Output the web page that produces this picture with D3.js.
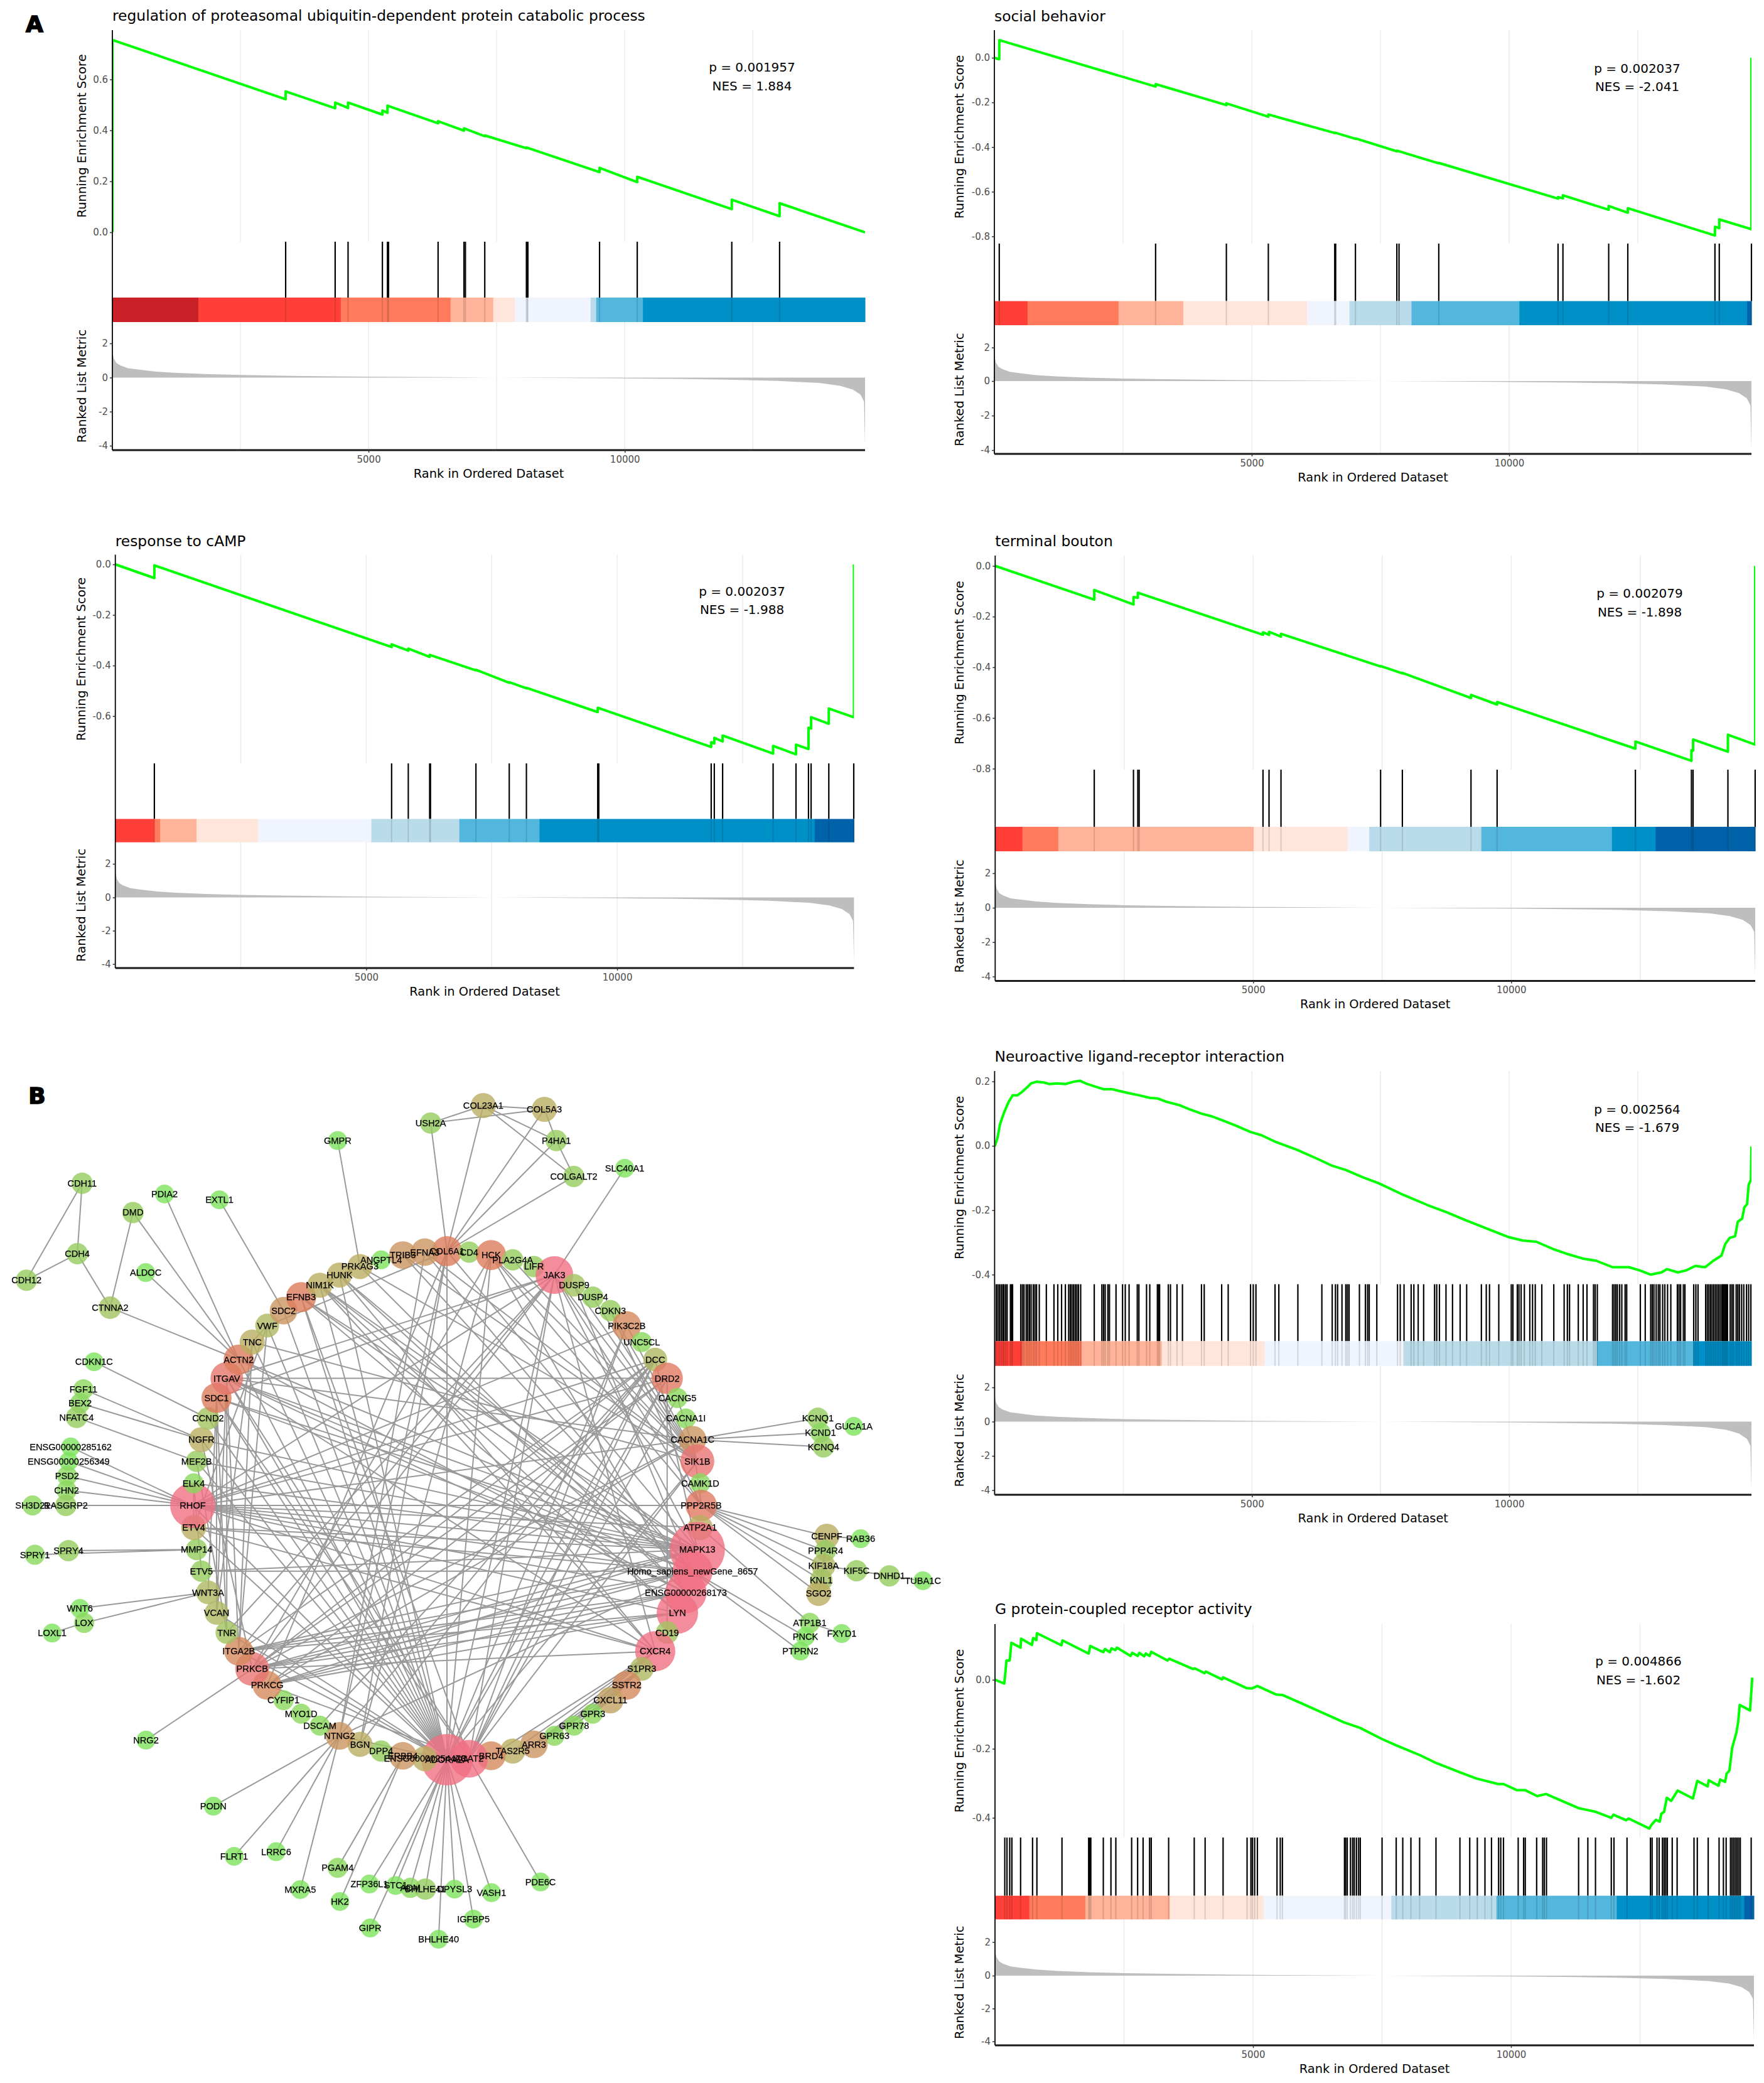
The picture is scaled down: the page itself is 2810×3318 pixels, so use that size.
<!DOCTYPE html>
<html><head><meta charset="utf-8">
<script src="https://cdnjs.cloudflare.com/ajax/libs/d3/7.8.5/d3.min.js"></script>
<style>html,body{margin:0;padding:0;background:#fff}svg{display:block}</style>
</head><body><svg id="c" width="2810" height="3318"></svg>
<script>
// ---------- DATA: running enrichment score vertices [rank, ES] ----------
const esProteasome=[[0,0],[0,.755],[3382,.522],[3382,.553],[4348,.487],[4348,.509],[4600,.488],[4600,.509],[5270,.462],[5270,.478],[5369,.469],[5369,.497],[6357,.428],[6357,.436],[6862,.399],[6862,.408],[7268,.377],[7268,.380],[8081,.330],[8081,.333],[9508,.236],[9508,.253],[10244,.197],[10244,.218],[12089,.091],[12089,.128],[13022,.063],[13022,.114],[14690,0]];
const esSocial=[[0,0],[95,-.007],[95,.079],[3132,-.129],[3132,-.118],[4507,-.212],[4507,-.204],[5322,-.264],[5322,-.254],[6612,-.337],[6612,-.335],[7014,-.363],[7014,-.361],[7818,-.419],[7818,-.416],[8633,-.473],[8633,-.471],[10950,-.631],[10950,-.624],[11045,-.629],[11045,-.616],[11934,-.681],[11934,-.664],[12305,-.694],[12305,-.674],[13998,-.796],[13998,-.757],[14082,-.763],[14082,-.724],[14707,-.768],[14707,0]];
const esCamp=[[0,0],[778,-.054],[778,-.004],[5506,-.327],[5506,-.316],[5838,-.341],[5838,-.333],[6264,-.366],[6264,-.358],[7186,-.419],[7186,-.417],[7850,-.468],[7850,-.466],[8192,-.490],[8192,-.488],[9613,-.584],[9613,-.567],[11874,-.722],[11874,-.703],[11936,-.708],[11936,-.686],[12102,-.700],[12102,-.677],[13108,-.748],[13108,-.718],[13564,-.751],[13564,-.713],[13813,-.730],[13813,-.646],[13865,-.649],[13865,-.604],[14218,-.630],[14218,-.570],[14720,-.605],[14720,0]];
const esBouton=[[0,0],[1920,-.133],[1920,-.095],[2680,-.152],[2680,-.123],[2764,-.126],[2764,-.106],[5190,-.272],[5190,-.262],[5307,-.272],[5307,-.260],[5539,-.279],[5539,-.268],[7469,-.397],[7469,-.395],[7891,-.424],[7891,-.422],[9221,-.521],[9221,-.509],[9727,-.547],[9727,-.537],[12407,-.721],[12407,-.693],[13493,-.769],[13493,-.727],[13525,-.729],[13525,-.685],[14200,-.733],[14200,-.666],[14729,-.705],[14729,0]];
const esNeuro=[[0,-.002],[53,.023],[106,.068],[180,.102],[265,.134],[349,.157],[444,.157],[529,.167],[635,.182],[709,.194],[815,.199],[952,.197],[1058,.192],[1217,.194],[1375,.192],[1534,.199],[1661,.202],[1799,.192],[1957,.184],[2116,.176],[2275,.176],[2433,.170],[2592,.164],[2804,.157],[3015,.149],[3174,.147],[3333,.137],[3597,.126],[3809,.112],[4020,.100],[4232,.091],[4444,.078],[4655,.065],[4973,.043],[5184,.033],[5449,.013],[5872,-.012],[6295,-.042],[6560,-.062],[6824,-.075],[7142,-.097],[7459,-.116],[7882,-.148],[8411,-.184],[8781,-.206],[9152,-.231],[9469,-.251],[9787,-.271],[9998,-.284],[10263,-.294],[10527,-.298],[10845,-.320],[11109,-.335],[11426,-.350],[11691,-.357],[12008,-.377],[12326,-.377],[12537,-.387],[12749,-.400],[12961,-.393],[13066,-.383],[13278,-.393],[13437,-.387],[13616,-.373],[13807,-.377],[13966,-.357],[14124,-.341],[14198,-.305],[14283,-.286],[14389,-.281],[14442,-.236],[14526,-.226],[14569,-.191],[14622,-.181],[14653,-.121],[14696,-.106],[14707,-.002]];
const esGpcr=[[0,0],[179,-.011],[200,.019],[222,.056],[285,.056],[317,.107],[496,.093],[506,.119],[717,.101],[739,.121],[802,.115],[812,.135],[1287,.100],[1308,.114],[1815,.076],[1846,.098],[2099,.080],[2131,.089],[2226,.080],[2258,.091],[2332,.086],[2363,.093],[2627,.069],[2659,.078],[2764,.069],[2796,.078],[2891,.068],[2922,.076],[2996,.069],[3028,.081],[3344,.056],[3376,.061],[3840,.031],[3872,.033],[4062,.019],[4083,.024],[4399,.001],[4420,.007],[4874,-.024],[4980,-.025],[5085,-.018],[5454,-.043],[5570,-.044],[5950,-.069],[6773,-.124],[7069,-.139],[7491,-.171],[7775,-.190],[8229,-.218],[8546,-.241],[9010,-.268],[9326,-.286],[9748,-.302],[9854,-.302],[10117,-.320],[10276,-.320],[10508,-.337],[10677,-.331],[11310,-.372],[11436,-.376],[11626,-.382],[11943,-.400],[11985,-.391],[12227,-.407],[12280,-.402],[12681,-.431],[12723,-.420],[12808,-.406],[12882,-.411],[12913,-.388],[12966,-.383],[13019,-.342],[13103,-.351],[13230,-.321],[13525,-.344],[13610,-.293],[13810,-.309],[13831,-.291],[14021,-.307],[14053,-.289],[14148,-.296],[14179,-.272],[14232,-.263],[14285,-.198],[14369,-.152],[14401,-.124],[14432,-.073],[14633,-.089],[14654,-.041],[14675,.006]];

// ---------- DATA: gene-set hit ranks ----------
const hitsProteasome=[3382,4348,4600,5270,5369,5390,6357,6862,6890,7268,8081,8095,8110,9508,10244,12089,13022];
const hitsSocial=[95,3132,4507,5322,6612,6630,7014,7818,7861,8633,10950,11045,11934,12305,13998,14082,14707];
const hitsCamp=[778,5506,5838,6264,6280,7186,7850,8192,9613,9634,11874,11936,12102,13108,13564,13813,13865,14218,14715];
const hitsBouton=[1920,2680,2764,2790,5190,5307,5539,7469,7891,9221,9727,12407,13493,13525,14200,14728];
const hitsNeuro=[32,63,95,127,159,180,212,243,307,328,349,508,540,571,614,645,677,709,751,783,815,868,1005,1153,1227,1301,1375,1439,1471,1502,1534,1566,1598,1629,1672,1936,2084,2116,2148,2201,2232,2359,2486,2539,2613,2772,2804,2952,3015,3163,3185,3206,3375,3417,3544,3650,4020,4073,4412,4539,4973,5026,5078,5449,5523,5893,6359,6560,6623,6665,6750,6824,6856,6888,7089,7205,7247,7279,7427,7829,7882,7956,8094,8147,8231,8337,8549,8591,8644,8771,8898,9046,9173,9459,9554,9617,9797,10040,10072,10157,10189,10231,10294,10400,10453,10506,10633,10866,11067,11130,11172,11342,11437,11511,11638,11670,11712,12008,12040,12072,12103,12146,12188,12252,12283,12548,12643,12749,12781,12812,12855,12897,12929,12982,13024,13077,13140,13267,13299,13331,13384,13415,13585,13627,13669,13817,13849,13881,13913,13944,13976,14008,14040,14071,14103,14135,14156,14177,14198,14220,14241,14294,14326,14357,14410,14442,14473,14516,14558,14611,14653,14696];
const hitsGpcr=[190,232,285,327,496,728,812,1298,1815,1836,1857,2099,2247,2342,2648,2764,2870,2996,3028,3365,3861,4072,4420,4885,4959,4990,5032,5085,5465,5528,5570,6773,6794,6826,6889,6931,6963,7005,7047,7079,7501,7775,7902,8060,8229,8546,9010,9200,9347,9495,9622,9759,9801,9854,10139,10244,10276,10497,10613,10645,10687,11310,11489,11637,11943,11995,12248,12702,12734,12829,12871,12934,12966,12998,13029,13124,13219,13546,13610,13821,14032,14116,14169,14253,14285,14316,14348,14379,14411,14443,14654];

// ---------- DATA: colour band, [last rank of block, colour class] ----------
const bandProteasome=[[1680,0],[4458,1],[6600,2],[7433,3],[7851,4],[9333,5],[9443,6],[10354,7],[14690,8]];
const bandSocial=[[645,1],[2412,2],[3671,3],[6073,4],[6898,5],[8104,6],[10199,7],[14622,8],[14707,9]];
const bandCamp=[[778,1],[892,2],[1618,3],[2841,4],[5102,5],[6855,6],[8452,7],[13937,8],[14720,9]];
const bandBouton=[[528,1],[1224,2],[5011,3],[6826,4],[7248,5],[9421,6],[11953,7],[12797,8],[14729,9]];
const bandNeuro=[[529,1],[1693,2],[3248,3],[5248,4],[7967,5],[11701,6],[13574,7],[14707,8]];
const bandGpcr=[[665,1],[1751,2],[3387,3],[5201,4],[7680,5],[9717,6],[12048,7],[14517,8],[14708,9]];
const bandColors=["#ca2027","#ff3f38","#ff7b5c","#ffb398","#ffe5da","#eff4fd","#badcea","#53b6dc","#0090c8","#0062a8"];

// ---------- DATA: ranked list metric (shared gene ranking) ----------
const metricRank=[0,30,80,150,300,500,800,1200,1800,2500,3500,5000,6500,7500,9000,10000,11000,12000,13000,13800,14200,14450,14600,14670,14690];
const metricValue=[1.5,1.1,.85,.72,.55,.47,.36,.28,.21,.15,.10,.05,.02,0,-.03,-.05,-.08,-.12,-.2,-.32,-.48,-.7,-1.0,-1.4,-3.95];

// ---------- DATA: network ----------
const ringGenes=["COL6A1","CD4","HCK","PLA2G4A","LIFR","JAK3","DUSP9","DUSP4","CDKN3","PIK3C2B","UNC5CL","DCC","DRD2","CACNG5","CACNA1I","CACNA1C","SIK1B","CAMK1D","PPP2R5B","ATP2A1","MAPK13","Homo_sapiens_newGene_8657","ENSG00000268173","LYN","CD19","CXCR4","S1PR3","SSTR2","CXCL11","GPR3","GPR78","GPR63","ARR3","TAS2R5","BRD4","ACAT2","ADORA2A","ENSG00000254473","ERBB4","DPP4","BGN","NTNG2","DSCAM","MYO1D","CYFIP1","PRKCG","PRKCB","ITGA2B","TNR","VCAN","WNT3A","ETV5","MMP14","ETV4","RHOF","ELK4","MEF2B","NGFR","CCND2","SDC1","ITGAV","ACTN2","TNC","VWF","SDC2","EFNB3","NIM1K","HUNK","PRKAG3","ANGPTL4","TRIB3","EFNA3"];
const ringDegree=[10,3,10,3,3,16,4,3,3,9,2,5,11,2,2,8,13,2,11,6,30,18,19,19,4,18,5,9,7,2,2,2,8,6,9,16,27,6,8,3,6,8,2,2,2,9,13,9,4,5,5,3,3,6,22,2,3,6,4,10,12,10,6,5,8,10,6,6,6,1,8,8];
const outerGenes=["GMPR","USH2A","CDH11","PDIA2","EXTL1","DMD","CDH4","ALDOC","CDH12","CTNNA2","CDKN1C","FGF11","BEX2","NFATC4","ENSG00000285162","ENSG00000256349","PSD2","CHN2","SH3D21","RASGRP2","SPRY1","SPRY4","WNT6","LOX","LOXL1","NRG2","PODN","FLRT1","LRRC6","PGAM4","MXRA5","ZFP36L1","STC1","ADM","BHLHE41","DPYSL3","VASH1","PDE6C","HK2","IGFBP5","GIPR","BHLHE40","COL23A1","COL5A3","P4HA1","SLC40A1","COLGALT2","KCNQ1","GUCA1A","KCND1","KCNQ4","CENPF","RAB36","PPP4R4","KIF18A","KIF5C","DNHD1","TUBA1C","KNL1","SGO2","ATP1B1","FXYD1","PNCK","PTPRN2"];
const outerLayoutX=[-43,-6.4,-143.5,-111.1,-89.5,-123.5,-145.4,-118.5,-165.4,-132.5,-138.8,-143,-144.3,-145.7,-148,-148.8,-149.4,-149.6,-163,-149.9,-162.1,-148.9,-144.4,-142.7,-155.3,-118.4,-91.9,-83.7,-67.2,-43,-57.7,-30.5,-20.2,-14.4,-8.5,3,17.5,36.8,-42.1,10.4,-30.2,-3.3,14.3,38.3,43,69.9,49.9,145.9,160,146.9,148.1,149.4,162.7,148.9,148.1,161.1,174,187.2,147.2,146.2,142.7,155.3,141,139];
const outerLayoutY=[-143.5,-150.4,-126.7,-122.5,-120.2,-115.2,-99,-91.6,-88.6,-77.8,-56.5,-45.7,-40.2,-34.6,-23,-17.3,-11.6,-5.9,0,0,19.4,17.8,40.5,46.2,50.2,92.3,118.3,138,136.2,142.5,151.1,148.9,149.5,150.4,150.9,150.9,152.3,148.1,155.8,162.7,166.2,170.6,-157.3,-155.8,-143.5,-132.6,-129.4,-34.3,-31.1,-28.6,-23,12.1,13.1,17.8,23.7,25.7,27.7,29.6,29.4,34.6,46.2,50.4,51.6,57.3];
const outerDegree=[1,3,3,1,1,3,3,1,3,4,1,2,2,3,1,1,2,2,2,3,2,3,1,2,1,1,1,1,1,2,1,1,1,2,3,1,1,1,1,1,1,1,6,6,3,1,3,3,1,2,3,6,1,3,5,3,3,1,4,6,2,1,1,1];
const outerEdges="GMPR-PRKAG3 USH2A-COL6A1 USH2A-COL23A1 USH2A-COL5A3 COL23A1-COL5A3 COL23A1-P4HA1 COL23A1-COLGALT2 COL23A1-COL6A1 COL5A3-P4HA1 COL5A3-COL6A1 P4HA1-COLGALT2 P4HA1-COL6A1 COLGALT2-COL6A1 SLC40A1-JAK3 CDH11-CDH4 CDH11-CDH12 CDH4-CDH12 CDH4-CTNNA2 DMD-CTNNA2 DMD-ACTN2 PDIA2-ACTN2 EXTL1-SDC2 ALDOC-ACTN2 CTNNA2-ACTN2 CDKN1C-CCND2 FGF11-NGFR BEX2-NGFR NFATC4-MEF2B ENSG00000285162-RHOF ENSG00000256349-RHOF PSD2-RHOF CHN2-RHOF RASGRP2-RHOF SH3D21-RHOF SPRY1-MMP14 SPRY4-MMP14 WNT6-WNT3A LOX-WNT3A LOXL1-LOX NRG2-PRKCB PODN-NTNG2 FLRT1-NTNG2 LRRC6-NTNG2 MXRA5-NTNG2 PGAM4-ERBB4 HK2-ERBB4 ZFP36L1-ADORA2A STC1-ADORA2A ADM-ADORA2A BHLHE41-ADORA2A DPYSL3-ADORA2A VASH1-ADORA2A IGFBP5-ADORA2A GIPR-ADORA2A BHLHE40-ADORA2A PDE6C-ACAT2 KCNQ1-CACNA1C KCND1-CACNA1C KCNQ4-CACNA1C CENPF-PPP2R5B PPP4R4-PPP2R5B KIF18A-PPP2R5B KNL1-PPP2R5B SGO2-PPP2R5B CENPF-RAB36 CENPF-SGO2 PPP4R4-KNL1 KNL1-SGO2 KIF18A-KIF5C KIF5C-DNHD1 DNHD1-TUBA1C ATP2A1-ATP1B1 ATP1B1-FXYD1 Homo_sapiens_newGene_8657-PNCK Homo_sapiens_newGene_8657-PTPRN2".split(" ");
const ringPartners={
 MAPK13:"RHOF ETV4 ELK4 MEF2B NGFR SDC1 ITGAV ACTN2 PRKCG PRKCB ITGA2B ETV5 EFNB3 NIM1K COL6A1 JAK3 DCC",
 Homo_sapiens_newGene_8657:"RHOF ETV4 ETV5 ITGAV SDC1 PRKCB PRKCG ITGA2B EFNB3 TRIB3 EFNA3 HUNK DUSP9 NIM1K NTNG2",
 ENSG00000268173:"RHOF ITGAV PRKCB PRKCG ITGA2B ACTN2 HCK HUNK PRKAG3",
 LYN:"RHOF ITGA2B PRKCB PRKCG NIM1K EFNB3",
 CXCR4:"RHOF ETV4 ITGAV PRKCB NIM1K HUNK JAK3 ARR3 GPR63 TAS2R5 BRD4",
 SIK1B:"HCK PLA2G4A JAK3 DUSP9 DUSP4 CDKN3 PIK3C2B CACNG5 ADORA2A ACAT2 PRKAG3 TRIB3 EFNA3 TNC",
 ADORA2A:"ITGAV SDC1 ACTN2 TNC VWF SDC2 EFNB3 NIM1K HUNK RHOF ETV4 CCND2 NGFR MEF2B JAK3 HCK COL6A1 PIK3C2B DCC DRD2 NTNG2 ITGA2B TNR VCAN",
 ACAT2:"ITGAV SDC1 EFNB3 DRD2 JAK3 PIK3C2B DCC CACNG5 PRKCG",
 RHOF:"JAK3 DRD2 DCC PIK3C2B CACNA1C PPP2R5B ATP2A1",
 DRD2:"ITGAV PRKCB PRKCG CD19",
 DCC:"ITGA2B PRKCB NTNG2 BGN DSCAM",
 CACNA1C:"PRKCB PRKCG ITGAV PPP2R5B",
 PPP2R5B:"JAK3 HCK CDKN3",
 JAK3:"PRKCB ITGAV SDC1 TNR ITGA2B",
 S1PR3:"ARR3 GPR63 CXCL11 GPR78 GPR3",
 SSTR2:"ARR3 GPR78",
 CXCL11:"ARR3 GPR3",
 ITGAV:"TNR ITGA2B VCAN",
 SDC1:"VCAN WNT3A TNR",
 VWF:"ITGA2B ETV4 TNC",
 TNC:"VCAN ITGA2B",
 ELK4:"ETV4 ETV5",
 MEF2B:"TNR",
 NGFR:"PRKCB",
 COL6A1:"NTNG2 BGN PRKCG VWF",
 HCK:"PRKCB BGN",
 EFNA3:"NTNG2",
 HUNK:"PRKAG3 NIM1K",
 NIM1K:"PRKAG3"
};

// ---------- LAYOUT ----------
const panels=[
{title:"regulation of proteasomal ubiquitin-dependent protein catabolic process",p:"p = 0.001957",nes:"NES = 1.884",es:esProteasome,hits:hitsProteasome,band:bandProteasome,ticks:[0,.2,.4,.6],
 L:179,R:1378,N:14690,top:48,esB:385,bandT:474,bandB:513,bot:717,titleY:25,yCal:[[0,370],[.6,126.5]],mCal:[547,601.4,710],pX:1198,pY:107,nY:137,tX:130},
{title:"social behavior",p:"p = 0.002037",nes:"NES = -2.041",es:esSocial,hits:hitsSocial,band:bandSocial,ticks:[0,-.2,-.4,-.6,-.8],
 L:1584,R:2790,N:14707,top:48,esB:388,bandT:479.6,bandB:518,bot:723,titleY:25.5,yCal:[[0,92],[-.8,376.5]],mCal:[553.6,607,717],pX:2608,pY:108.7,nY:138,tX:1528},
{title:"response to cAMP",p:"p = 0.002037",nes:"NES = -1.988",es:esCamp,hits:hitsCamp,band:bandCamp,ticks:[0,-.2,-.4,-.6],
 L:183.7,R:1360.4,N:14720,top:883.6,esB:1216,bandT:1304.5,bandB:1341.7,bot:1542,titleY:861.6,yCal:[[0,899],[-.6,1140.7]],mCal:[1376,1429.5,1535.6],pX:1182,pY:942,nY:971,tX:129},
{title:"terminal bouton",p:"p = 0.002079",nes:"NES = -1.898",es:esBouton,hits:hitsBouton,band:bandBouton,ticks:[0,-.2,-.4,-.6,-.8],
 L:1585.3,R:2796,N:14729,top:885,esB:1226,bandT:1317,bandB:1356,bot:1562.6,titleY:861.6,yCal:[[0,901.4],[-.8,1224.4]],mCal:[1391,1446,1555.5],pX:2612,pY:945,nY:975,tX:1528},
{title:"Neuroactive ligand-receptor interaction",p:"p = 0.002564",nes:"NES = -1.679",es:esNeuro,hits:hitsNeuro,band:bandNeuro,ticks:[.2,0,-.2,-.4],
 L:1584.4,R:2790,N:14707,top:1706,esB:2045.6,bandT:2136.4,bandB:2175.7,bot:2381,titleY:1683,yCal:[[.2,1722.6],[-.4,2030.3]],mCal:[2210,2264.5,2373.7],pX:2608,pY:1766.5,nY:1795.6,tX:1528},
{title:"G protein-coupled receptor activity",p:"p = 0.004866",nes:"NES = -1.602",es:esGpcr,hits:hitsGpcr,band:bandGpcr,ticks:[0,-.2,-.4],
 L:1585,R:2794,N:14708,top:2587,esB:2927,bandT:3019.7,bandB:3057.4,bot:3258,titleY:2563,yCal:[[0,2675.7],[-.4,2895.6]],mCal:[3093.5,3147,3251.8],pX:2610,pY:2646,nY:2676,tX:1528}
];
const FONT="'DejaVu Sans'";
const svg=d3.select("#c");
const defs=svg.append("defs");
const blur=defs.append("filter").attr("id","soft").attr("x","-5%").attr("y","-5%").attr("width","110%").attr("height","110%");
blur.append("feGaussianBlur").attr("stdDeviation",0.7);
const fmt=v=>d3.format(".1f")(v).replace("\u2212","-");

panels.forEach((c,i)=>{
  const g=svg.append("g");
  const x=d3.scaleLinear().domain([0,c.N]).range([c.L,c.R]);
  const y=d3.scaleLinear().domain(c.yCal.map(d=>d[0])).range(c.yCal.map(d=>d[1]));
  const m=d3.scaleLinear().domain([2,0,-4]).range(c.mCal);
  const grid=d3.range(2500,c.N,2500);
  [[c.top,c.esB],[c.bandB,c.bot]].forEach(([a,b])=>{
    g.append("g").selectAll("line").data(grid).join("line")
     .attr("x1",x).attr("x2",x).attr("y1",a).attr("y2",b)
     .attr("stroke","#ebebeb").attr("stroke-width",1.5);
  });
  const clip="clip"+i;
  defs.append("clipPath").attr("id",clip).append("rect").attr("x",c.L).attr("y",c.top).attr("width",c.R-c.L).attr("height",c.esB-c.top);
  g.append("path").datum(c.es).attr("clip-path",`url(#${clip})`)
   .attr("d",d3.line().x(d=>x(d[0])).y(d=>y(d[1])))
   .attr("fill","none").attr("stroke","#00ff00").attr("stroke-width",4).attr("stroke-linejoin","round");
  g.append("g").selectAll("line").data(c.hits).join("line")
   .attr("x1",x).attr("x2",x).attr("y1",c.esB).attr("y2",c.bandT)
   .attr("stroke","#000").attr("stroke-width",2.2);
  let prev=0;
  const blocks=c.band.map(([e,k])=>{const b={s:prev,e,k};prev=e;return b;});
  g.append("g").selectAll("rect").data(blocks).join("rect")
   .attr("x",d=>x(d.s)).attr("width",d=>x(d.e)-x(d.s)+.5).attr("y",c.bandT).attr("height",c.bandB-c.bandT)
   .attr("fill",d=>bandColors[d.k]);
  g.append("g").selectAll("line").data(c.hits).join("line")
   .attr("x1",x).attr("x2",x).attr("y1",c.bandT).attr("y2",c.bandB)
   .attr("stroke","#000").attr("stroke-width",2).attr("stroke-opacity",.13);
  const scaleR=c.N/metricRank[metricRank.length-1];
  g.append("path").datum(metricRank.map((r,j)=>[r*scaleR,metricValue[j]]))
   .attr("d",d3.area().x(d=>x(d[0])).y0(m(0)).y1(d=>m(d[1])))
   .attr("fill","#bebebe");
  g.append("line").attr("x1",c.L).attr("x2",c.L).attr("y1",c.top).attr("y2",c.bot).attr("stroke","#000").attr("stroke-width",1.8);
  g.append("line").attr("x1",c.L).attr("x2",c.R).attr("y1",c.bot).attr("y2",c.bot).attr("stroke","#1a1a1a").attr("stroke-width",3);
  const styleAxis=a=>{a.select(".domain").remove();a.selectAll("line").attr("stroke","#333").attr("stroke-width",1.5);
    a.selectAll("text").attr("font-family",FONT).attr("font-size",15).attr("fill","#4d4d4d");};
  g.append("g").attr("transform",`translate(${c.L},0)`).call(d3.axisLeft(y).tickValues(c.ticks).tickFormat(fmt).tickSize(4).tickPadding(3)).call(styleAxis);
  g.append("g").attr("transform",`translate(${c.L},0)`).call(d3.axisLeft(m).tickValues([2,0,-2,-4]).tickFormat(d=>String(d)).tickSize(4).tickPadding(3)).call(styleAxis);
  g.append("g").attr("transform",`translate(0,${c.bot})`).call(d3.axisBottom(x).tickValues([5000,10000]).tickFormat(d=>String(d)).tickSize(4).tickPadding(5)).call(styleAxis);
  const txt=(s,xx,yy,fs,anchor)=>g.append("text").attr("x",xx).attr("y",yy).attr("font-family",FONT).attr("font-size",fs).attr("text-anchor",anchor||"middle").attr("dominant-baseline","central").attr("fill","#000").text(s);
  txt(c.title,c.L,c.titleY,23.4,"start");
  txt(c.p,c.pX,c.pY,20); txt(c.nes,c.pX,c.nY,20);
  txt("Rank in Ordered Dataset",(c.L+c.R)/2,c.bot+37,19.4);
  [["Running Enrichment Score",(c.top+c.esB)/2],["Ranked List Metric",(c.bandB+c.bot)/2]].forEach(([s,cy])=>{
    g.append("text").attr("transform",`translate(${c.tX},${cy}) rotate(-90)`).attr("font-family",FONT).attr("font-size",19.6)
     .attr("text-anchor","middle").attr("dominant-baseline","central").attr("fill","#000").text(s);
  });
});

[["A",55,38],["B",59,1745]].forEach(([s,xx,yy])=>{
  svg.append("text").attr("x",xx).attr("y",yy).attr("text-anchor","middle").attr("dominant-baseline","central")
   .attr("font-family",FONT).attr("font-weight",700).attr("font-size",36).attr("stroke","#000").attr("stroke-width",1.6).text(s);
});

const layoutX=d3.scaleLinear().domain([-100,100]).range([307,1117]);
const layoutY=d3.scaleLinear().domain([-100,100]).range([1993,2803]);
const ringAngle=d3.scaleLinear().domain([0,ringGenes.length]).range([0,2*Math.PI]);
const nodeR=d3.scaleLinear().domain([1,30]).range([15,44]);
const nodeColor=d3.scaleLinear().domain([1,6,10,15]).range(["rgb(125,226,92)","rgb(186,174,99)","rgb(221,124,92)","rgb(240,111,130)"]).clamp(true);
const nodes=new Map();
ringGenes.forEach((n,i)=>nodes.set(n,{name:n,lx:100*Math.sin(ringAngle(i)),ly:-100*Math.cos(ringAngle(i)),deg:ringDegree[i]}));
outerGenes.forEach((n,i)=>nodes.set(n,{name:n,lx:outerLayoutX[i],ly:outerLayoutY[i],deg:outerDegree[i]}));
const links=outerEdges.map(e=>{const k=e.lastIndexOf("-");return [e.slice(0,k),e.slice(k+1)];});
Object.entries(ringPartners).forEach(([h,ps])=>ps.split(" ").forEach(p=>links.push([h,p])));
const net=svg.append("g").attr("filter","url(#soft)");
net.append("g").selectAll("line").data(links).join("line")
 .attr("x1",d=>layoutX(nodes.get(d[0]).lx)).attr("y1",d=>layoutY(nodes.get(d[0]).ly))
 .attr("x2",d=>layoutX(nodes.get(d[1]).lx)).attr("y2",d=>layoutY(nodes.get(d[1]).ly))
 .attr("stroke","#999").attr("stroke-width",2);
const all=[...nodes.values()];
net.append("g").selectAll("circle").data(all).join("circle")
 .attr("cx",d=>layoutX(d.lx)).attr("cy",d=>layoutY(d.ly)).attr("r",d=>nodeR(d.deg))
 .attr("fill",d=>nodeColor(d.deg)).attr("fill-opacity",.8);
net.append("g").selectAll("text").data(all).join("text")
 .attr("x",d=>layoutX(d.lx)).attr("y",d=>layoutY(d.ly))
 .attr("text-anchor","middle").attr("dominant-baseline","central")
 .attr("font-family","'Liberation Sans'").attr("font-size",14.6).attr("fill","#000").attr("stroke","#000").attr("stroke-width",.25)
 .text(d=>d.name);
</script></body></html>
